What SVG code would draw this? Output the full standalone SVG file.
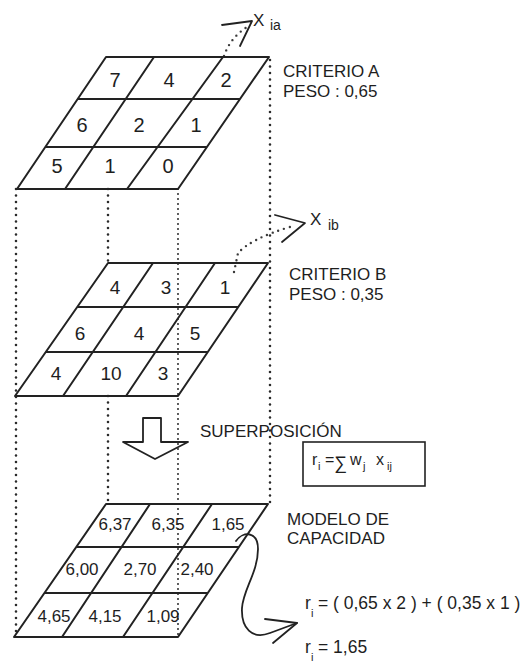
<svg xmlns="http://www.w3.org/2000/svg" width="527" height="663" viewBox="0 0 527 663">
<style>
.g{fill:none;stroke:#222;stroke-width:2;stroke-linejoin:round}
.ln{fill:none;stroke:#222;stroke-width:1.8;stroke-linecap:round;stroke-linejoin:round}
.dot{fill:none;stroke:#2a2a2a;stroke-width:2.6;stroke-linecap:round;stroke-dasharray:0 6.5}
.dot2{fill:none;stroke:#2a2a2a;stroke-width:2;stroke-linecap:round;stroke-dasharray:0 5}
.dot3{fill:none;stroke:#3a3a3a;stroke-width:2.4;stroke-linecap:round;stroke-dasharray:0 6}
text{font-family:"Liberation Sans",Arial,Helvetica,sans-serif;fill:#1e1e1e}
.n1{font-size:20px;text-anchor:middle}
.n2{font-size:19px;text-anchor:middle}
.n3{font-size:17px;text-anchor:middle}
.lb{font-size:17px}
.sb{font-size:11px}
.rf{font-size:17.5px}
</style>
<rect width="527" height="663" fill="#fff"/>

<g id="connectors">
  <path class="dot" d="M16,189 V637"/>
  <path class="dot" d="M108,189 V263"/>
  <path class="dot" d="M108,396 V504"/>
  <path class="dot2" d="M178,189 V637"/>
  <path class="dot" d="M270,60 V504"/>
  <path class="dot3" d="M224,56 Q230,38 247,27"/>
  <path class="ln" d="M222,25 L252,21 L240,46"/>
  <path class="dot3" d="M234,272 L238,253 Q252,238 290,227"/>
  <path class="ln" d="M275,215 L305,223 L282,242"/>
  <polygon class="ln" points="143,418 161,418 161,442 188,442 155,459 123,442 143,442"/>
  <path class="ln" d="M236,541 C243,531 258,531 258,549 C258,572 243,590 242,608 C241,628 252,640 270,633 L297,623"/>
  <path class="ln" d="M265,619 L297,623 L273,643"/>
</g>

<g id="grid-a">
  <polygon class="g" points="106,57 269,57 178,189 17,189"/>
  <path class="g" d="M77.7,99 H240 M45.3,147 H207 M154,57 L65,189 M223,57 L127,189"/>
  <text class="n1" x="115" y="87">7</text>
  <text class="n1" x="169" y="87">4</text>
  <text class="n1" x="226" y="87">2</text>
  <text class="n1" x="82" y="132">6</text>
  <text class="n1" x="139" y="132">2</text>
  <text class="n1" x="196" y="132">1</text>
  <text class="n1" x="57" y="173">5</text>
  <text class="n1" x="110" y="173">1</text>
  <text class="n1" x="168" y="173">0</text>
</g>

<g id="grid-b">
  <polygon class="g" points="108,263 268,263 178,396 15,396"/>
  <path class="g" d="M77.2,307 H238.2 M45.8,352 H207.8 M153,263 L63,396 M215,263 L126,396"/>
  <text class="n2" x="115" y="294">4</text>
  <text class="n2" x="166" y="294">3</text>
  <text class="n2" x="225" y="294">1</text>
  <text class="n2" x="80" y="340">6</text>
  <text class="n2" x="139" y="340">4</text>
  <text class="n2" x="195" y="340">5</text>
  <text class="n2" x="56" y="380">4</text>
  <text class="n2" x="111" y="380">10</text>
  <text class="n2" x="163" y="380">3</text>
</g>

<g id="grid-c">
  <polygon class="g" points="106,504 268,504 178,637 14,637"/>
  <path class="g" d="M76.3,547 H238.9 M44.4,593 H207.8 M150,504 L62,637 M212,504 L123,637"/>
  <text class="n3" x="115" y="530">6,37</text>
  <text class="n3" x="168" y="530">6,35</text>
  <text class="n3" x="228" y="530">1,65</text>
  <text class="n3" x="82" y="575">6,00</text>
  <text class="n3" x="140" y="575">2,70</text>
  <text class="n3" x="197" y="575">2,40</text>
  <text class="n3" x="54" y="622">4,65</text>
  <text class="n3" x="105" y="622">4,15</text>
  <text class="n3" x="163" y="622">1,09</text>
</g>

<g id="x-ia">
  <text x="253" y="26" style="font-size:17px">X</text>
  <text x="270" y="30" style="font-size:14px">ia</text>
</g>
<g id="x-ib">
  <text x="310" y="225" style="font-size:17px">X</text>
  <text x="328" y="230" style="font-size:14px">ib</text>
</g>

<g id="label-a">
  <text class="lb" x="283" y="77">CRITERIO A</text>
  <text class="lb" x="283" y="97">PESO : 0,65</text>
</g>
<g id="label-b">
  <text class="lb" x="289" y="280">CRITERIO B</text>
  <text class="lb" x="289" y="300">PESO : 0,35</text>
</g>
<g id="label-superposicion">
  <text class="lb" x="200" y="437">SUPERPOSICIÓN</text>
</g>
<g id="formula-box">
  <rect x="303" y="442" width="122" height="44" fill="none" stroke="#222" stroke-width="1.6"/>
  <text x="312" y="465" style="font-size:16px">r</text>
  <text x="318" y="470" class="sb">i</text>
  <text x="325" y="465" style="font-size:16px">=</text>
  <text x="334" y="469" style="font-size:18px">∑</text>
  <text x="350" y="465" style="font-size:16px">w</text>
  <text x="363" y="470" class="sb">j</text>
  <text x="376" y="465" style="font-size:16px">x</text>
  <text x="387" y="470" class="sb">ij</text>
</g>
<g id="label-c">
  <text class="lb" x="287" y="525">MODELO DE</text>
  <text class="lb" x="287" y="544">CAPACIDAD</text>
</g>
<g id="result">
  <text x="305" y="609" class="rf">r</text>
  <text x="311" y="617" class="sb">i</text>
  <text x="318" y="609" class="rf">= ( 0,65 x 2 ) + ( 0,35 x 1 )</text>
  <text x="305" y="653" class="rf">r</text>
  <text x="311" y="661" class="sb">i</text>
  <text x="318" y="653" class="rf">= 1,65</text>
</g>
</svg>
